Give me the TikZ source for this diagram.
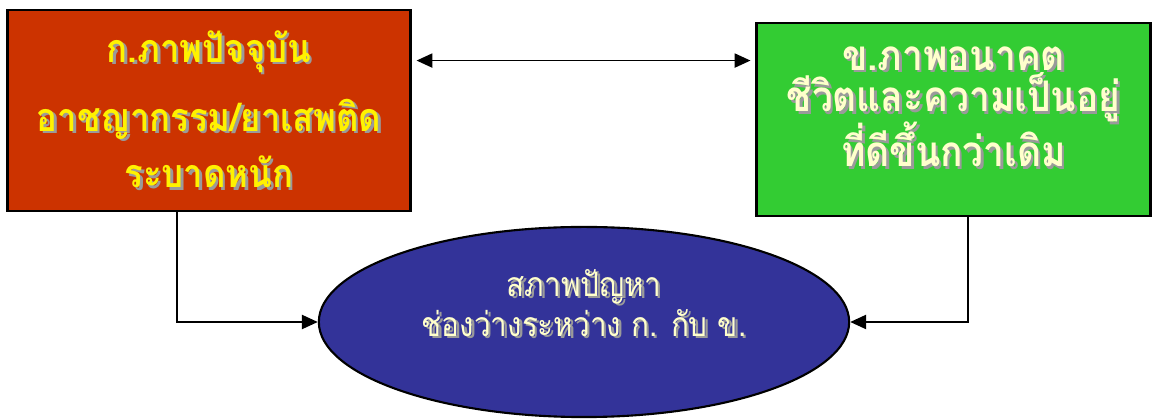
\documentclass[tikz,border=0pt]{standalone}
\usepackage{fontspec}
\newfontfamily\thaifont[Script=Thai,FakeStretch=0.88]{Loma}
\usepackage{tikz}
\usetikzlibrary{shapes.geometric,arrows.meta}
\definecolor{nowred}{HTML}{CC3300}
\definecolor{futuregreen}{HTML}{33CC33}
\definecolor{gapblue}{HTML}{333399}
\definecolor{paleyellow}{HTML}{FFFFCC}
\definecolor{shadowgray}{HTML}{9A9A9A}
\newcommand{\thsh}[1]{\leavevmode\rlap{\hspace{0.7pt}\raisebox{-0.7pt}{\textcolor{shadowgray}{#1}}}#1}

\begin{document}
\begin{tikzpicture}[x=0.01cm,y=-0.01cm,
		statebox/.style={rectangle,draw,line width=0.8pt,inner sep=0pt,align=center},
		tip/.style={Triangle[length=4.5pt,width=4pt]},
		conn/.style={line width=0.5pt,-{Triangle[length=4.5pt,width=4pt]}}]
		\useasboundingbox (0,0) rectangle (1155,419);

		% Present and future
		\node[statebox,fill=nowred,text=yellow,minimum width=4.02cm,minimum height=2.01cm,
			font=\thaifont\bfseries\fontsize{11.2}{13.6}\selectfont] (now) at (209,110.5)
			{\thsh{ก.ภาพปัจจุบัน}\\[0.21cm]\thsh{อาชญากรรม/ยาเสพติด}\\[0.09cm]\thsh{ระบาดหนัก}};
		\node[statebox,fill=futuregreen,text=paleyellow,minimum width=3.93cm,minimum height=1.93cm,
			font=\thaifont\bfseries\fontsize{12}{13}\selectfont] (future) at (953.5,119.5)
			{\thsh{ข.ภาพอนาคต}\\[-0.04cm]\thsh{ชีวิตและความเป็นอยู่}\\[-0.06cm]\thsh{ที่ดีขึ้นกว่าเดิม}\\[-0.2cm]\mbox{}};

		% The gap between them
		\node[ellipse,draw,line width=0.6pt,fill=gapblue,text=paleyellow,inner sep=0pt,
			minimum width=5.3cm,minimum height=1.9cm,align=center,
			font=\thaifont\fontsize{9.6}{12}\selectfont] (gap) at (584,322)
			{\thsh{สภาพปัญหา}\\[-0.02cm]\thsh{ช่องว่างระหว่าง ก. กับ ข.}\\[-0.04cm]\mbox{}};

		% Connectors
		\coordinate (topL) at ([yshift=-0.52cm]now.north east);
		\draw[line width=0.5pt,{Triangle[length=4.5pt,width=4pt]}-{Triangle[length=4.5pt,width=4pt]},
			shorten <=0.05cm,shorten >=0.05cm] (topL) -- (topL -| future.west);
		\draw[conn] ([xshift=-0.32cm]now.south) |- (gap.west);
		\draw[conn] ([xshift=0.145cm]future.south) |- (gap.east);
	\end{tikzpicture}
\end{document}
